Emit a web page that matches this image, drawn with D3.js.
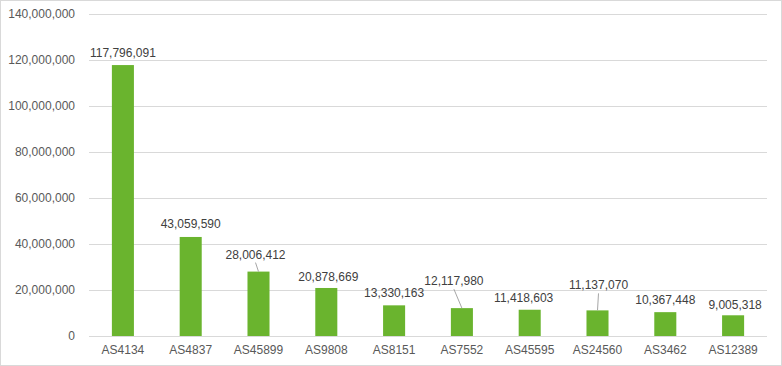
<!DOCTYPE html>
<html><head><meta charset="utf-8">
<script src="https://cdn.jsdelivr.net/npm/d3@7"></script>
<style>html,body{margin:0;padding:0;background:#fff;}svg{display:block;font-family:"Liberation Sans",Arial,sans-serif;}</style>
</head><body>
<svg id="chart" width="782" height="366"></svg>
<script>
const categories = ["AS4134","AS4837","AS45899","AS9808","AS8151","AS7552","AS45595","AS24560","AS3462","AS12389"];
const values = [117796091,43059590,28006412,20878669,13330163,12117980,11418603,11137070,10367448,9005318];
const yTicks = [0,20000000,40000000,60000000,80000000,100000000,120000000,140000000];
// label placement tweaks (px): [dx, dy from bar top to baseline, leader line?]
const labelLayout = [[0,-8,0],[0,-9,0],[-3,-13,1],[2,-7,0],[0,-8,0],[-8,-23,1],[-6,-8,0],[1,-21,1],[0,-8,0],[2,-6,0]];

const svg = d3.select("#chart");
const W = 782, H = 366;
const m = {left: 89, right: 15, top: 14, bottom: 30};

svg.append("rect").attr("x",0.5).attr("y",0.5).attr("width",W-1).attr("height",H-1)
  .attr("fill","#fff").attr("stroke","#d9d9d9");

const x = d3.scaleBand().domain(categories).range([m.left, W - m.right]).paddingInner(0.675).paddingOuter(0.3375);
const y = d3.scaleLinear().domain([0,140000000]).range([H - m.bottom, m.top]);
const fmt = d3.format(",");

// gridlines
svg.append("g").selectAll("line").data(yTicks).join("line")
  .attr("x1", m.left).attr("x2", W - m.right)
  .attr("y1", d => Math.round(y(d)) + 0.5).attr("y2", d => Math.round(y(d)) + 0.5)
  .attr("stroke", "#d9d9d9").attr("stroke-width", 1);

// y axis labels
const yAxis = d3.axisLeft(y).tickValues(yTicks).tickFormat(fmt).tickSize(0).tickPadding(14);
const gy = svg.append("g").attr("transform", `translate(${m.left},0)`).call(yAxis);
gy.select(".domain").remove();
gy.selectAll("text").attr("font-size", 12).attr("fill", "#595959").attr("font-family", "Liberation Sans, Arial, sans-serif");

// x axis labels
const xAxis = d3.axisBottom(x).tickSize(0).tickPadding(9);
const gx = svg.append("g").attr("transform", `translate(0,${H - m.bottom})`).call(xAxis);
gx.select(".domain").remove();
gx.selectAll("text").attr("font-size", 12).attr("fill", "#595959").attr("font-family", "Liberation Sans, Arial, sans-serif");

// bars
svg.append("g").selectAll("rect").data(categories).join("rect")
  .attr("x", d => x(d)).attr("width", x.bandwidth())
  .attr("y", (d,i) => y(values[i])).attr("height", (d,i) => y(0) - y(values[i]))
  .attr("fill", "#6ab42e");

// leader lines
const gl = svg.append("g");
categories.forEach((c,i) => {
  const L = labelLayout[i];
  if (!L[2]) return;
  const cx = x(c) + x.bandwidth()/2;
  const top = y(values[i]);
  gl.append("line")
    .attr("x1", cx + L[0]).attr("y1", top + L[1] + 4)
    .attr("x2", cx).attr("y2", top)
    .attr("stroke", "#a6a6a6").attr("stroke-width", 1);
});

// value labels
svg.append("g").selectAll("text").data(categories).join("text")
  .attr("x", (d,i) => x(d) + x.bandwidth()/2 + labelLayout[i][0])
  .attr("y", (d,i) => y(values[i]) + labelLayout[i][1])
  .attr("text-anchor", "middle").attr("font-size", 12).attr("fill", "#404040")
  .text((d,i) => fmt(values[i]));
</script>
</body></html>
